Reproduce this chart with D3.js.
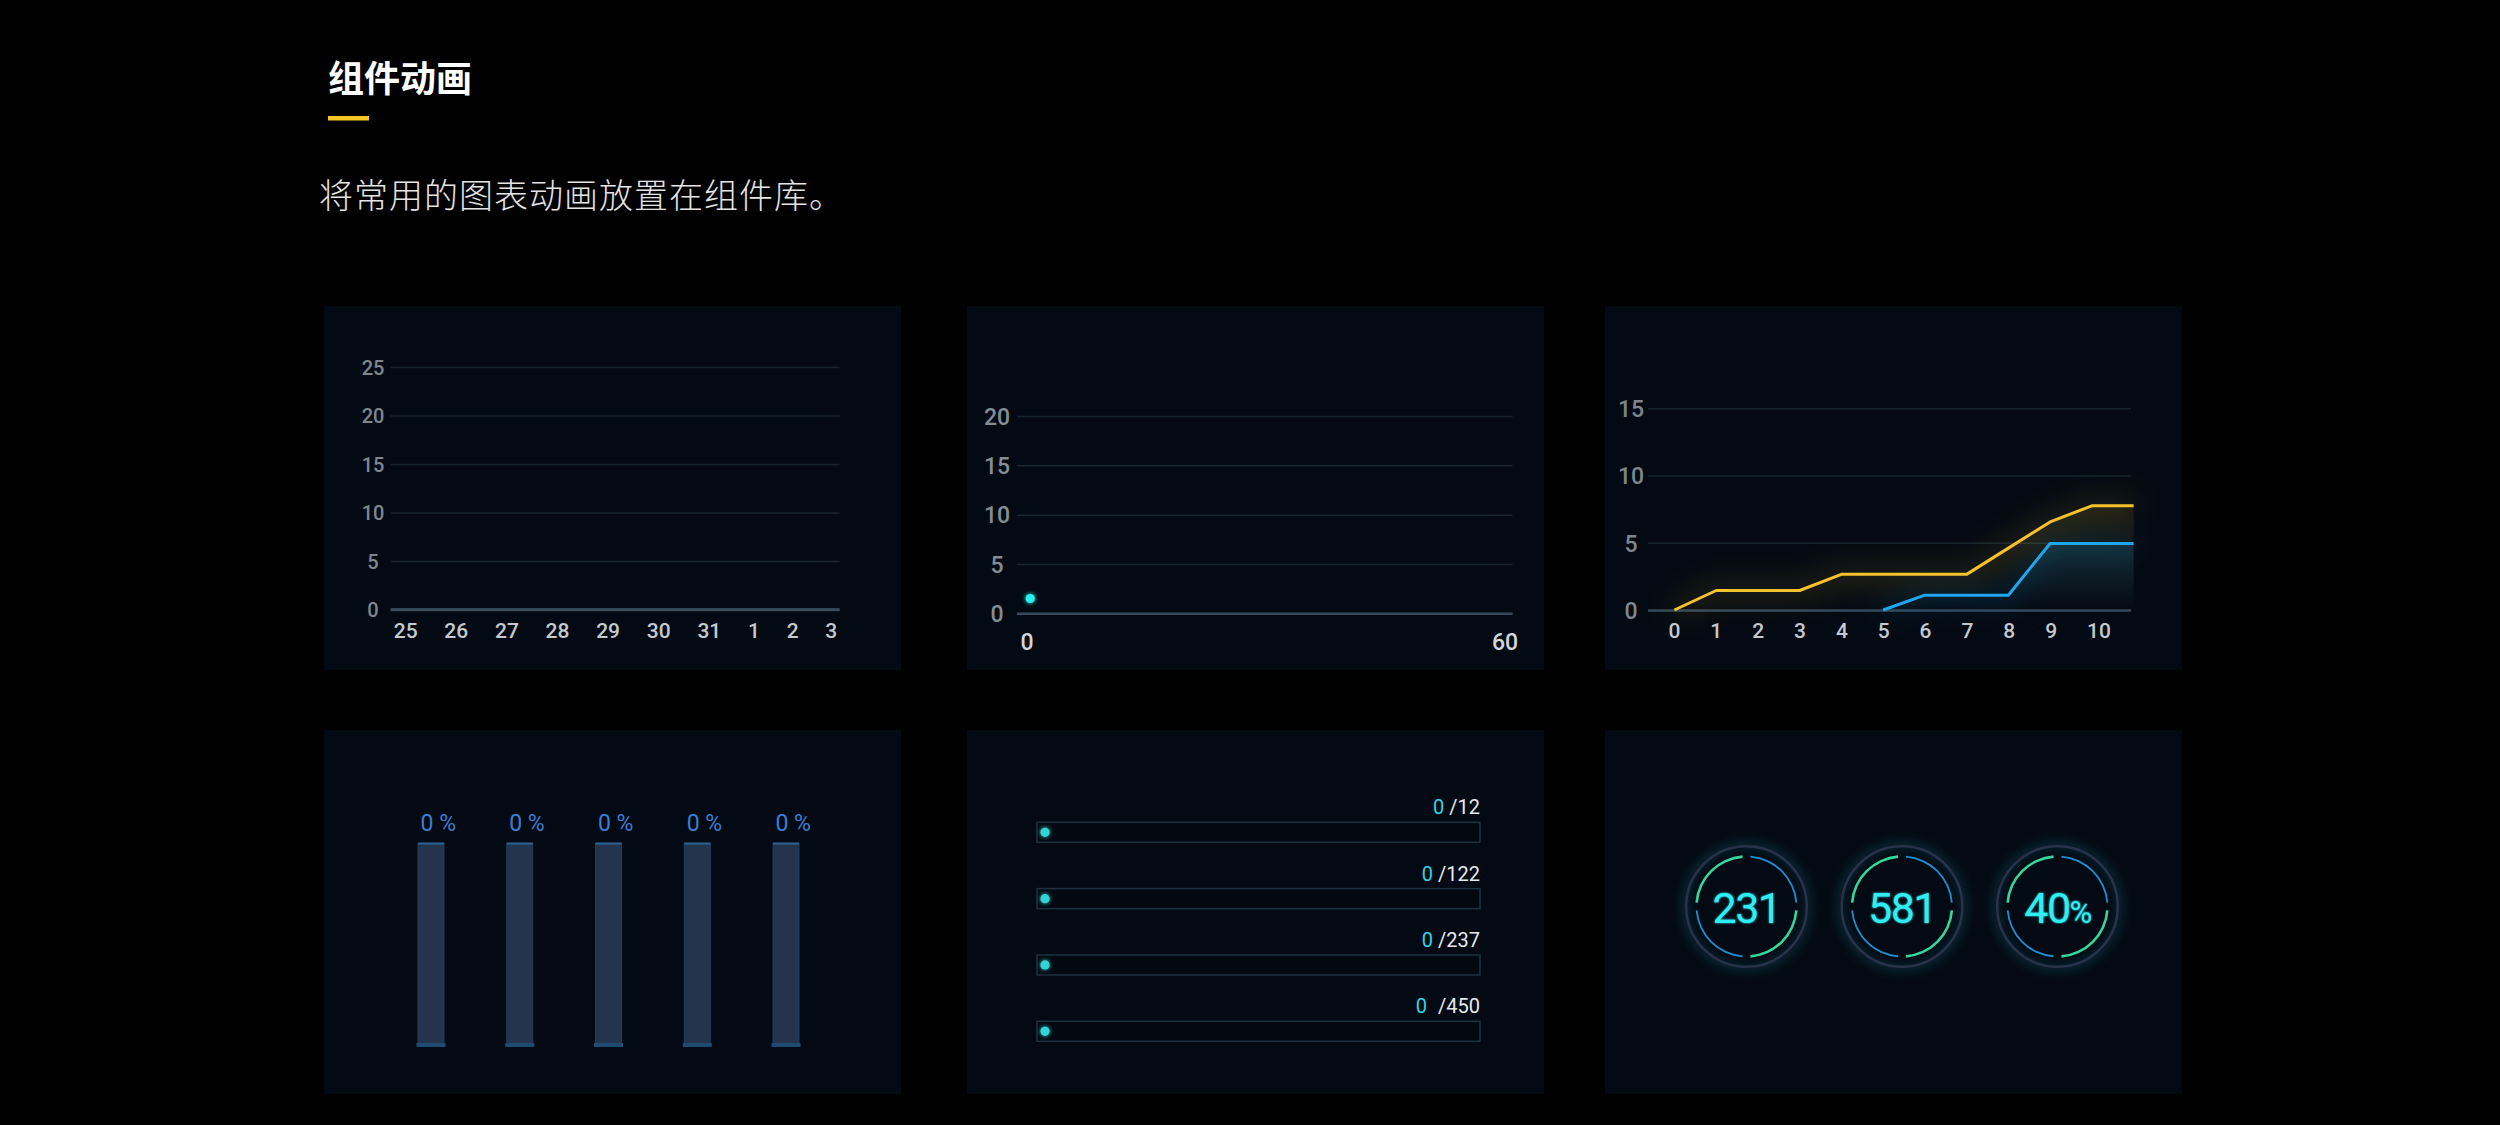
<!DOCTYPE html>
<html><head><meta charset="utf-8">
<script src="https://cdn.jsdelivr.net/npm/d3@7"></script>
<style>html,body{margin:0;padding:0;background:#000;}svg{display:block;}</style>
</head><body>
<svg id="c" width="2500" height="1125"></svg>
<script>
// ---------------- data ----------------
const pageTitle = "组件动画";
const pageSubtitle = "将常用的图表动画放置在组件库。";

const dayCategories = ["25","26","27","28","29","30","31","1","2","3"];
const dayValues = [0,0,0,0,0,0,0,0,0,0];
const dayTicks = [0,5,10,15,20,25];

const scatterTicksY = [0,5,10,15,20];
const scatterTicksX = [0,60];
const scatterX = [0.4];
const scatterY = [1.5];

const stepCategories = ["0","1","2","3","4","5","6","7","8","9","10",""];
const yellowSeries = [0,1.45,1.45,1.45,2.65,2.65,2.65,2.65,4.6,6.55,7.75,7.75];
const blueSeries = [null,null,null,null,null,0,1.1,1.1,1.1,4.95,4.95,4.95];
const stepTicks = [0,5,10,15];

const barPercents = [0,0,0,0,0];

const progressValues = [0,0,0,0];
const progressTotals = [12,122,237,450];

const gaugeValues = [231,581,40];
const gaugeUnits = ["","","%"];

// ---------------- setup ----------------
const NUM = "Roboto, 'DejaVu Sans', sans-serif";
const CJK = "'Noto Sans CJK SC', 'Noto Sans', sans-serif";
const svg = d3.select("#c");
const defs = svg.append("defs");

function glow(id, sd){
  const f = defs.append("filter").attr("id", id)
    .attr("x","-100%").attr("y","-100%").attr("width","300%").attr("height","300%");
  f.append("feGaussianBlur").attr("in","SourceGraphic").attr("stdDeviation", sd).attr("result","b");
  const m = f.append("feMerge");
  m.append("feMergeNode").attr("in","b");
  m.append("feMergeNode").attr("in","SourceGraphic");
}
glow("g2", 2);
glow("g1", 1.2);
const haze = defs.append("filter").attr("id","haze").attr("filterUnits","userSpaceOnUse")
  .attr("x",1600).attr("y",300).attr("width",600).attr("height",380);
haze.append("feGaussianBlur").attr("stdDeviation", 14);
const halo = defs.append("filter").attr("id","halo").attr("x","-50%").attr("y","-50%").attr("width","200%").attr("height","200%");
halo.append("feGaussianBlur").attr("stdDeviation", 5);

svg.append("rect").attr("width",2500).attr("height",1125).attr("fill","#000");

// header
svg.append("text").attr("x",328).attr("y",92).attr("font-family",CJK).attr("font-weight",700)
  .attr("font-size",36).attr("fill","#ffffff").text(pageTitle);
svg.append("rect").attr("x",328).attr("y",116).attr("width",41).attr("height",4.5).attr("fill","#f7c623");
svg.append("text").attr("x",319).attr("y",208).attr("font-family",CJK).attr("font-weight",300)
  .attr("font-size",34).attr("letter-spacing",1).attr("fill","#e4e4e4").text(pageSubtitle);

// panels
const panelX = [324, 967, 1605], panelY = [306, 730];
panelY.forEach(py => panelX.forEach(px => {
  svg.append("rect").attr("x",px).attr("y",py).attr("width",577).attr("height",364).attr("fill","#040a13");
}));

const GRID = "#16242e";
function yGrid(y, ticks, x0, x1, labelCx, fs, color){
  const ax = d3.axisLeft(y).tickValues(ticks).tickSize(-(x1 - x0));
  const a = svg.append("g").attr("transform", `translate(${x0},0)`).call(ax);
  a.select(".domain").remove();
  a.selectAll(".tick line")
    .attr("stroke", d => d === 0 ? "#34495a" : GRID)
    .attr("stroke-width", d => d === 0 ? 2.5 : 1.5);
  a.selectAll(".tick text")
    .attr("x", labelCx - x0).attr("text-anchor","middle").attr("dy","0.36em")
    .attr("fill", color).attr("font-size", fs).attr("font-family", NUM).attr("font-weight",500);
  return a;
}
// labels laid out in a row with a constant gap between them
function rowLabels(labels, firstCx, lastCx, baseline, fs, color){
  const t = svg.append("g").selectAll("text").data(labels).join("text")
    .attr("y", baseline).attr("font-size", fs).attr("font-family", NUM).attr("font-weight",500)
    .attr("fill", color).attr("text-anchor","middle").text(d => d);
  const w = t.nodes().map(n => n.getComputedTextLength());
  const n = w.length;
  const inner = d3.sum(w) - w[0]/2 - w[n-1]/2;
  const gap = ((lastCx - firstCx) - inner) / (n - 1);
  let x = firstCx - w[0]/2;
  const xs = w.map(wi => { const c = x + wi/2; x += wi + gap; return c; });
  t.attr("x", (d,i) => xs[i]);
}

// ---------------- panel 1 : empty day line ----------------
{
  const y = d3.scaleLinear().domain([0,25]).range([609.5, 367]);
  const x = d3.scalePoint().domain(dayCategories).range([390.7, 839.5]);
  yGrid(y, dayTicks, 390.7, 839.5, 373, 20, "#7f878e");
  rowLabels(dayCategories, 405.7, 831.3, 638.3, 21, "#c4c9ce");
  svg.append("path").datum(dayValues)
    .attr("d", d3.line().x((d,i) => x(dayCategories[i])).y(d => y(d)))
    .attr("fill","none").attr("stroke","#3a5060").attr("stroke-width",2.5);
}

// ---------------- panel 2 : scatter ----------------
{
  const y = d3.scaleLinear().domain([0,20]).range([613.3, 416]);
  const x = d3.scaleLinear().domain([0,60]).range([1027, 1505]);
  yGrid(y, scatterTicksY, 1017, 1512.6, 997, 23, "#858d94");
  svg.append("g").selectAll("text").data(scatterTicksX).join("text")
    .attr("x", d => x(d)).attr("y", 650).attr("text-anchor","middle").attr("font-weight",500)
    .attr("font-size",23).attr("font-family",NUM).attr("fill","#d2d6da").text(d => d);
  svg.append("g").selectAll("circle").data(scatterX).join("circle")
    .attr("cx", d => x(d)).attr("cy", (d,i) => y(scatterY[i])).attr("r",4.6)
    .attr("fill","#27f2f0").attr("filter","url(#g2)");
}

// ---------------- panel 3 : two step lines ----------------
{
  const y = d3.scaleLinear().domain([0,15]).range([610, 408.3]);
  const x = d3.scaleLinear().domain([0,11]).range([1674.4, 2133.6]);
  yGrid(y, stepTicks, 1648, 2131, 1631, 23, "#7e868d");
  rowLabels(stepCategories.filter(d => d !== ""), 1674.4, 2099, 637.7, 21, "#c4c9ce");

  const series = [
    {vals: yellowSeries, color: "#f5c12c", id: "gy", top: 0.09},
    {vals: blueSeries, color: "#1fa6ee", id: "gb", top: 0.16}
  ];
  series.forEach(s => {
    const gr = defs.append("linearGradient").attr("id", s.id).attr("gradientUnits","userSpaceOnUse")
      .attr("x1",0).attr("x2",0).attr("y1", y(d3.max(s.vals))).attr("y2", y(0));
    gr.append("stop").attr("offset",0).attr("stop-color",s.color).attr("stop-opacity",s.top);
    gr.append("stop").attr("offset",1).attr("stop-color",s.color).attr("stop-opacity",0);
  });
  const line = d3.line().defined(d => d != null).x((d,i) => x(i)).y(d => y(d));
  const area = d3.area().defined(d => d != null).x((d,i) => x(i)).y0(y(0)).y1(d => y(d));
  series.forEach(s => {
    svg.append("path").datum(s.vals).attr("d", area).attr("fill", `url(#${s.id})`);
    svg.append("path").datum(s.vals).attr("d", line).attr("fill","none")
      .attr("stroke", s.color).attr("stroke-opacity",0.22).attr("stroke-width",10).attr("filter","url(#haze)");
  });
  series.slice().reverse().forEach(s => {
    svg.append("path").datum(s.vals).attr("d", line).attr("fill","none")
      .attr("stroke", s.color).attr("stroke-width",3).attr("stroke-linejoin","round");
  });
}

// ---------------- panel 4 : percentage bars ----------------
{
  const x = d3.scaleBand().domain(d3.range(barPercents.length)).range([418, 799]).paddingInner(0.707).paddingOuter(0);
  const y = d3.scaleLinear().domain([0,100]).range([1045, 843.5]);
  const bw = x.bandwidth();
  const g = svg.append("g").selectAll("g").data(barPercents).join("g");
  g.append("rect").attr("x",(d,i)=>x(i)).attr("y",y(100)).attr("width",bw).attr("height",y(0)-y(100))
    .attr("fill","#24344d").attr("stroke","#1b3f62").attr("stroke-width",1);
  g.append("rect").attr("x",(d,i)=>x(i)).attr("y",d=>y(d)).attr("width",bw).attr("height",d=>y(0)-y(d))
    .attr("fill","#2f7fd6");
  g.append("line").attr("x1",(d,i)=>x(i)).attr("x2",(d,i)=>x(i)+bw).attr("y1",y(100)).attr("y2",y(100))
    .attr("stroke","#2a6597").attr("stroke-width",2);
  g.append("rect").attr("x",(d,i)=>x(i)-1.5).attr("y",y(0)-2).attr("width",bw+3).attr("height",4)
    .attr("fill","#1d4b72");
  g.append("text").attr("x",(d,i)=>x(i)+2.5).attr("y",831).attr("font-size",23).attr("font-family",NUM)
    .attr("fill","#3a7dd5").text(d => `${d} %`);
}

// ---------------- panel 5 : progress tracks ----------------
{
  const row = d3.scalePoint().domain(d3.range(progressTotals.length)).range([822.3, 1021.3]);
  const g = svg.append("g").selectAll("g").data(progressTotals).join("g");
  g.append("rect").attr("x",1037).attr("y",(d,i)=>row(i)).attr("width",443).attr("height",20)
    .attr("fill","#030910").attr("stroke","#1c3241").attr("stroke-width",1.5);
  g.append("circle")
    .attr("cx",(d,i)=> d3.scaleLinear().domain([0,d]).range([1045, 1472])(progressValues[i]))
    .attr("cy",(d,i)=>row(i)+10).attr("r",4.6).attr("fill","#33d4d6").attr("filter","url(#g2)");
  const t = g.append("text").attr("x",1480).attr("y",(d,i)=>row(i)-8).attr("text-anchor","end")
    .attr("font-size",20).attr("font-family",NUM);
  t.append("tspan").attr("fill","#2fd4e4").text((d,i)=>progressValues[i]);
  t.append("tspan").attr("dx",(d,i)=> i===3 ? 11 : 5).attr("fill","#e6e9ec").text(d=>`/${d}`);
}

// ---------------- panel 6 : gauges ----------------
{
  const cx = d3.scalePoint().domain(d3.range(gaugeValues.length)).range([1746.5, 2057.5]);
  const cy = 906.5;
  const deg = Math.PI/180;
  const arcs = [
    {a0: 4.5, a1: 85.5, c: "#1c8fd2", w: 1.8},
    {a0: 94.5, a1: 175.5, c: "#36d79c", w: 2.6},
    {a0: 184.5, a1: 265.5, c: "#1c8fd2", w: 1.8},
    {a0: 274.5, a1: 355.5, c: "#36d79c", w: 2.6}
  ];
  const g = svg.append("g").selectAll("g").data(gaugeValues).join("g")
    .attr("transform",(d,i)=>`translate(${cx(i)},${cy})`);
  g.append("circle").attr("r",62).attr("fill","none").attr("stroke","#1aa6c0").attr("stroke-opacity",0.18)
    .attr("stroke-width",8).attr("filter","url(#halo)");
  g.append("circle").attr("r",60.3).attr("fill","none").attr("stroke","#29324a").attr("stroke-width",2.5);
  arcs.forEach(a => {
    g.append("path").attr("d", d3.arc().innerRadius(50 - a.w/2).outerRadius(50 + a.w/2)
      .startAngle(a.a0*deg).endAngle(a.a1*deg)()).attr("fill", a.c);
  });
  const t = g.append("text").attr("y",923 - cy).attr("text-anchor","middle")
    .attr("font-family",NUM).attr("font-size",43).attr("font-weight",400).attr("letter-spacing",-1.5)
    .attr("fill","#2eeef4").attr("filter","url(#g1)");
  t.append("tspan").text(d=>d);
  t.append("tspan").attr("font-size",31).text((d,i)=>gaugeUnits[i]);
}
</script>
</body></html>
